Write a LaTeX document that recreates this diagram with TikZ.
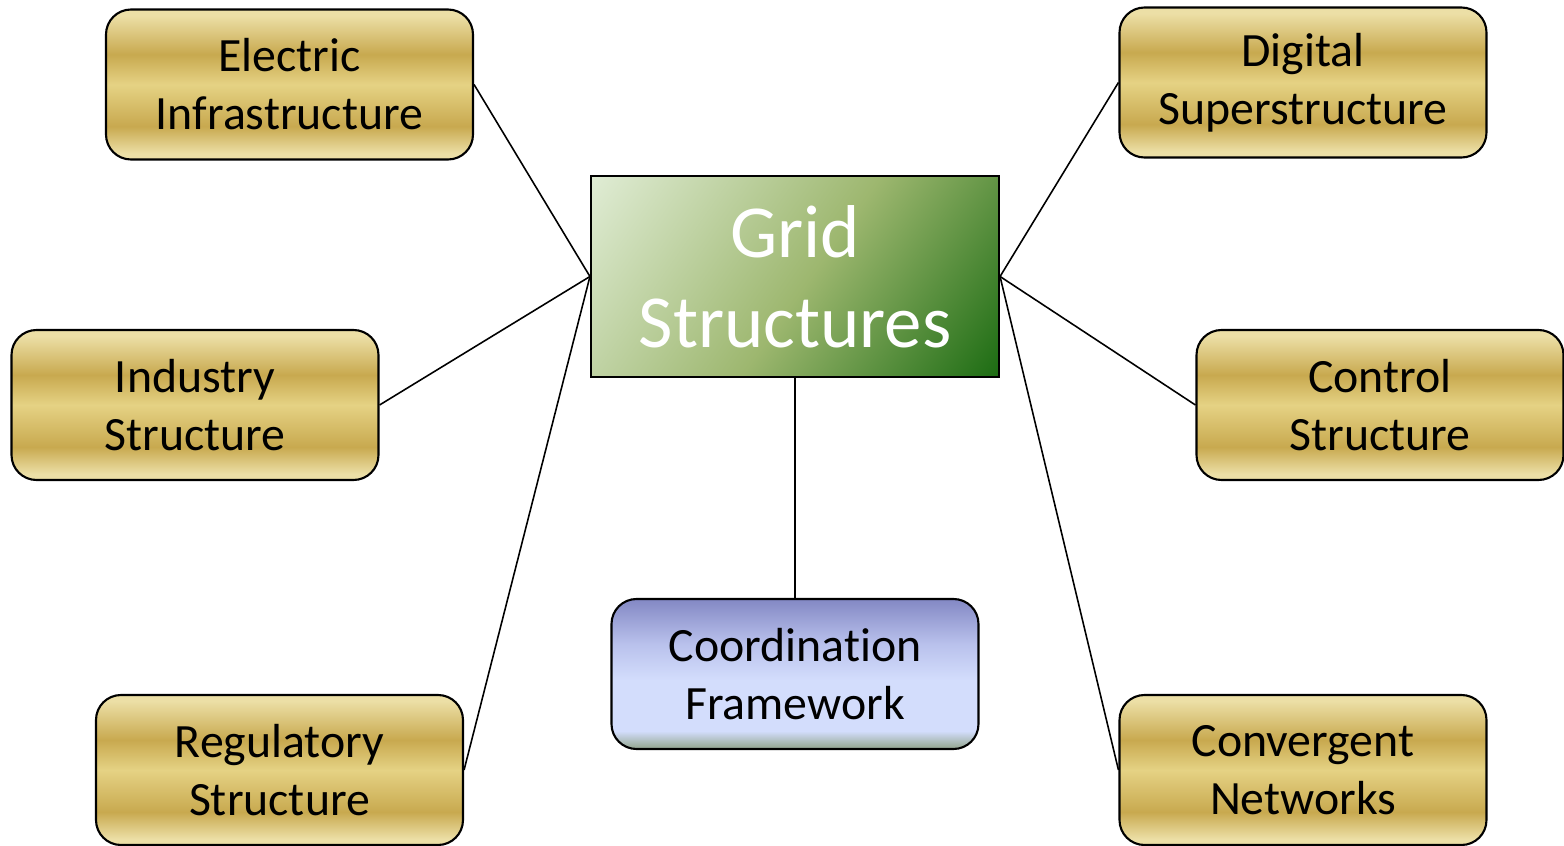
\documentclass[tikz,border=0pt]{standalone}
\usepackage{fontspec}
\setmainfont{Carlito}[Ligatures=NoCommon]

\definecolor{goldlt}{HTML}{ECDFA6}
\definecolor{goldmd}{HTML}{E5D284}
\definecolor{golddk}{HTML}{C8A94F}
\definecolor{greenlt}{HTML}{E2EED8}
\definecolor{greenmd}{HTML}{9DB76F}
\definecolor{greendk}{HTML}{17690F}
\definecolor{bluetop}{HTML}{8388C4}
\definecolor{bluemd}{HTML}{B9C1EC}
\definecolor{bluelt}{HTML}{D3DDFC}
\definecolor{bluebot}{HTML}{9CAE9E}

% stripes run 25bp (bottom) to 75bp (top)
\pgfdeclareverticalshading{goldbar}{100bp}{color(0bp)=(goldlt); color(27bp)=(goldlt);
  color(36bp)=(golddk); color(50bp)=(goldmd); color(60bp)=(golddk); color(73bp)=(goldlt); color(100bp)=(goldlt)}
\pgfdeclareverticalshading{bluebar}{100bp}{color(0bp)=(bluebot); color(26bp)=(bluebot);
  color(31bp)=(bluelt); color(48bp)=(bluelt); color(60bp)=(bluemd); color(75bp)=(bluetop); color(100bp)=(bluetop)}
\pgfdeclarehorizontalshading{greenbar}{100bp}{color(0bp)=(greenlt); color(14bp)=(greenlt);
  color(52bp)=(greenmd); color(86bp)=(greendk); color(100bp)=(greendk)}

\tikzset{
  part/.style={draw=black, line width=0.6pt, rounded corners=0.25cm, shading=goldbar,
    minimum width=3.67cm, minimum height=1.5cm, align=center, inner sep=2pt,
    font=\fontsize{13.6}{16.5}\selectfont},
  frame/.style={part, shading=bluebar},
  hub/.style={draw=black, line width=0.6pt, shading=greenbar, shading angle=-35,
    minimum width=4.08cm, minimum height=2.01cm, align=center, text=white,
    font=\fontsize{21.3}{25.6}\selectfont},
  link/.style={line width=0.45pt}
}

\begin{document}
\begin{tikzpicture}
\useasboundingbox (0,0) rectangle (15.64,8.45);

\node [hub] (grid) at (7.95,5.685) {Grid\\Structures};

\node [part] (elec) at (2.895,7.605) {Electric\\Infrastructure};
\node [part] (ind)  at (1.95,4.40)   {Industry\\Structure};
\node [part] (reg)  at (2.795,0.75)  {Regulatory\\Structure};
\node [part] (digi) at (13.03,7.625) {Digital\\Superstructure};
\node [part] (ctrl) at (13.80,4.40)  {Control\\Structure};
\node [part] (conv) at (13.03,0.75)  {Convergent\\Networks};
\node [frame] (coord) at (7.95,1.71) {Coordination\\Framework};

\draw [link] (elec.east) -- (grid.west);
\draw [link] (ind.east)  -- (grid.west);
\draw [link] (reg.east)  -- (grid.west);
\draw [link] (digi.west) -- (grid.east);
\draw [link] (ctrl.west) -- (grid.east);
\draw [link] (conv.west) -- (grid.east);
\draw [link] (grid.south) -- (coord.north);

\end{tikzpicture}
\end{document}
